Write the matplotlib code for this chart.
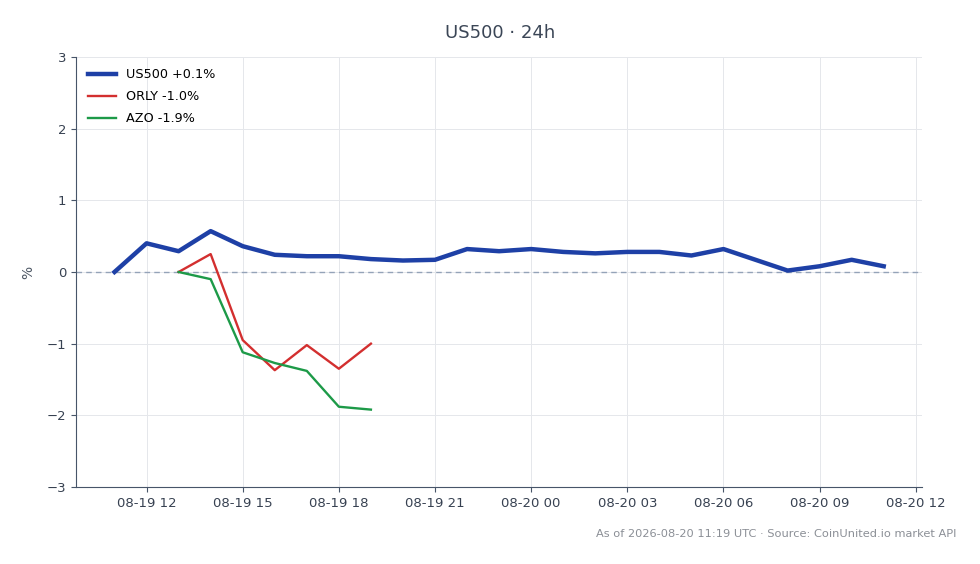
import matplotlib
matplotlib.use("Agg")
from datetime import datetime, timedelta

import matplotlib.dates as mdates
from matplotlib import pyplot as plt

# hourly % change
start = datetime(2026, 8, 19, 11)
us500 = [0.00, 0.40, 0.29, 0.57, 0.36, 0.24, 0.22, 0.22, 0.18, 0.16, 0.17, 0.32, 0.29,
         0.32, 0.28, 0.26, 0.28, 0.28, 0.23, 0.32, 0.17, 0.02, 0.08, 0.17, 0.08]
orly = [0.00, 0.25, -0.95, -1.37, -1.02, -1.35, -1.00]
azo = [0.00, -0.10, -1.12, -1.27, -1.38, -1.88, -1.92]

us500_t = [start + timedelta(hours=i) for i in range(len(us500))]
stock_t = [start + timedelta(hours=2 + i) for i in range(len(orly))]

labels = ["US500 +0.1%", "ORLY -1.0%", "AZO -1.9%"]

fig = plt.figure(figsize=(9.8, 5.64), dpi=100)
ax = fig.add_axes([0.0776, 0.1365, 0.8634, 0.7625])

ax.plot(us500_t, us500, color="#1e40a6", lw=3.2, label=labels[0], zorder=4)
ax.plot(stock_t, orly, color="#d32f2f", lw=1.7, label=labels[1], zorder=3)
ax.plot(stock_t, azo, color="#1d9a48", lw=1.7, label=labels[2], zorder=3)
ax.axhline(0, color="#94a3b8", lw=1, ls=(0, (4, 3)), zorder=2)

ax.set_ylim(-3, 3)
ax.set_yticks(range(-3, 4))
ax.xaxis.set_major_locator(mdates.HourLocator(byhour=range(0, 24, 3)))
ax.xaxis.set_major_formatter(mdates.DateFormatter("%m-%d %H"))

ax.grid(True, color="#e5e7eb", lw=0.7)
ax.set_axisbelow(True)
for s in ("top", "right"):
    ax.spines[s].set_visible(False)
for s in ("left", "bottom"):
    ax.spines[s].set_color("#475569")
ax.tick_params(axis="both", colors="#475569", labelsize=9.5, labelcolor="#374151")
ax.set_ylabel("%", color="#4b5563", fontsize=10, labelpad=8)

ax.legend(loc="upper left", frameon=False, fontsize=9.2, handlelength=2.2,
          labelspacing=0.7, borderaxespad=0.5)

fig.suptitle("US500 · 24h", x=0.51, y=0.958, fontsize=13, color="#3b4656")
fig.text(0.976, 0.053, "As of 2026-08-20 11:19 UTC · Source: CoinUnited.io market API",
         ha="right", va="center", fontsize=8.2, color="#8b8f96")

fig.savefig("out.png", dpi=100)
